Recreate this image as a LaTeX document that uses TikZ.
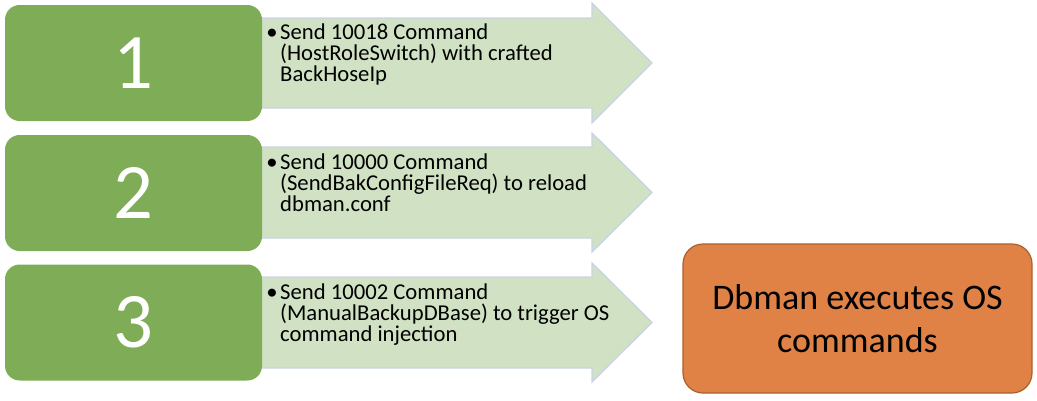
\documentclass[tikz,border=0pt]{standalone}
\usepackage{fontspec}
\setmainfont{Carlito}
\usepackage{xcolor}
\usetikzlibrary{positioning}

\definecolor{stepgreen}{RGB}{127,172,86}
\definecolor{notegreen}{RGB}{208,226,195}
\definecolor{noteedge}{RGB}{201,210,232}
\definecolor{resultfill}{RGB}{224,130,70}
\definecolor{resultedge}{RGB}{168,96,46}

\newcommand{\noteindent}{\hphantom{\textbullet\hspace{2pt}}}

\begin{document}
\begin{tikzpicture}[
  x=0.75pt,y=-0.75pt,
  numbox/.style={rectangle,fill=stepgreen,rounded corners=11pt,minimum width=192.75pt,minimum height=87pt,inner sep=0pt,text=white,font=\fontsize{59}{60}\selectfont},
  notearrow/.style={fill=notegreen,draw=noteedge,line width=1pt,line join=miter},
  stepnote/.style={anchor=base west,align=left,inner sep=0pt,font=\fontsize{17}{15.75}\selectfont},
  result/.style={rectangle,fill=resultfill,draw=resultedge,line width=0.9pt,rounded corners=15pt,minimum width=261.75pt,minimum height=111.75pt,align=center,font=\fontsize{27}{32}\selectfont}]
\useasboundingbox (0,0) rectangle (1037,400);
% arrows behind the number boxes
\draw[notearrow] (250,18) -- (592,18) -- (592,3) -- (652,63) -- (592,123) -- (592,108) -- (250,108) -- cycle;
\draw[notearrow] (250,147) -- (592,147) -- (592,133) -- (652,192.5) -- (592,252) -- (592,238) -- (250,238) -- cycle;
\draw[notearrow] (250,277) -- (592,277) -- (592,263) -- (652,322.5) -- (592,382) -- (592,368) -- (250,368) -- cycle;
\node[numbox] (one) at (133.5,63) {1};
\node[numbox] (two) at (133.5,193) {2};
\node[numbox] (three) at (133.5,322.5) {3};
% base anchor sits on the last line
\node[stepnote] (note1) at (266,81) {\textbullet\hspace{2pt}Send 10018 Command\\\noteindent(HostRoleSwitch) with crafted\\\noteindent BackHoseIp};
\node[stepnote] (note2) at (266,211) {\textbullet\hspace{2pt}Send 10000 Command\\\noteindent(SendBakConfigFileReq) to reload\\\noteindent dbman.conf};
\node[stepnote] (note3) at (266,341) {\textbullet\hspace{2pt}Send 10002 Command\\\noteindent(ManualBackupDBase) to trigger OS\\\noteindent command injection};
\node[result] (exec) at (857.5,318.5) {Dbman executes OS\\commands};
\end{tikzpicture}
\end{document}
